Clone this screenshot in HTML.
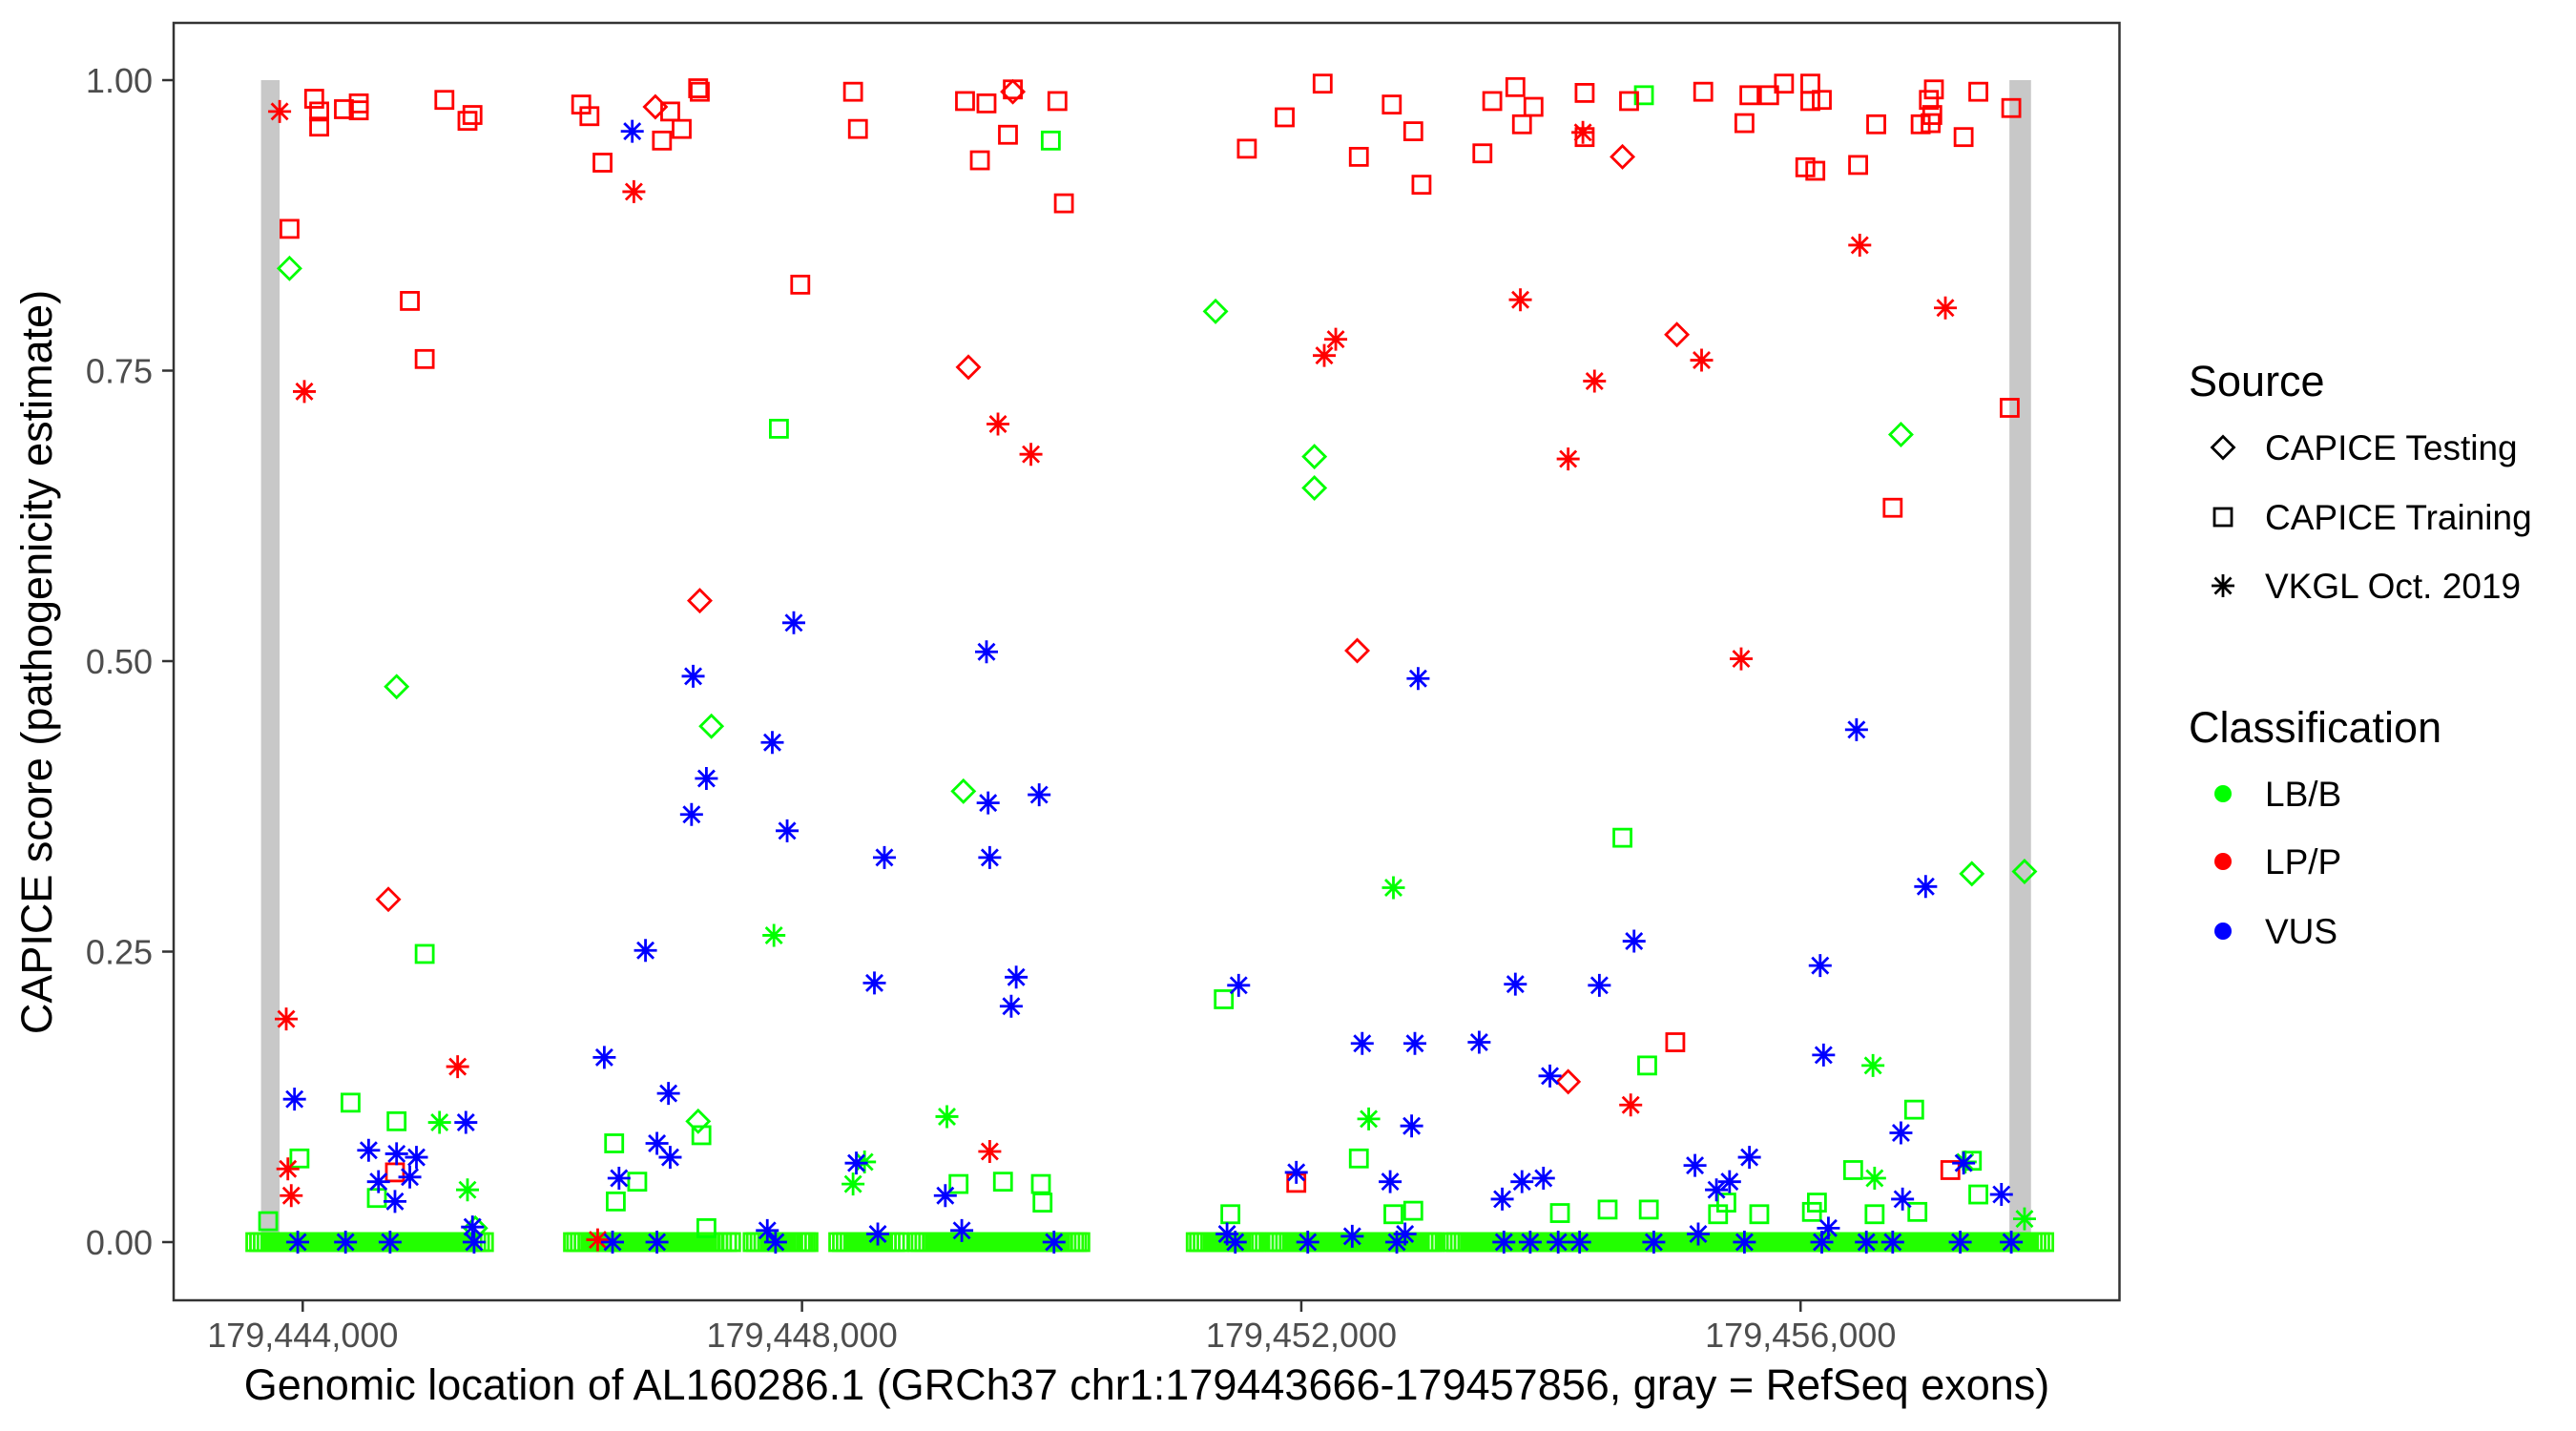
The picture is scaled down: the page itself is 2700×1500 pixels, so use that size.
<!DOCTYPE html>
<html><head><meta charset="utf-8"><style>
html,body{margin:0;padding:0;background:#fff;}
svg{display:block;font-family:"Liberation Sans",Arial,sans-serif;}
</style></head><body>
<svg id="chart" width="2700" height="1500" viewBox="0 0 2700 1500" xmlns="http://www.w3.org/2000/svg">
<rect x="0" y="0" width="2700" height="1500" fill="#fff"/>
<g id="exons"></g>
<g id="marks"></g>
<rect x="182" y="24" width="2039.5" height="1339" fill="none" stroke="#333" stroke-width="2.5"/>
<g id="axes"></g>
<text x="1202" y="1467" text-anchor="middle" font-size="45" fill="#000">Genomic location of AL160286.1 (GRCh37 chr1:179443666-179457856, gray = RefSeq exons)</text>
<text transform="translate(54,694) rotate(-90)" text-anchor="middle" font-size="45" fill="#000">CAPICE score (pathogenicity estimate)</text>
<g id="legend">
<text x="2294" y="415" font-size="45" fill="#000">Source</text>
<text x="2374" y="482" font-size="37" fill="#000">CAPICE Testing</text>
<text x="2374" y="555" font-size="37" fill="#000">CAPICE Training</text>
<text x="2374" y="627" font-size="37" fill="#000">VKGL Oct. 2019</text>
<text x="2294" y="778" font-size="45" fill="#000">Classification</text>
<text x="2374" y="845" font-size="37" fill="#000">LB/B</text>
<text x="2374" y="916" font-size="37" fill="#000">LP/P</text>
<text x="2374" y="989" font-size="37" fill="#000">VUS</text>
<circle cx="2330" cy="832" r="9" fill="#00ff00"/>
<circle cx="2330" cy="903" r="9" fill="#ff0000"/>
<circle cx="2330" cy="976" r="9" fill="#0000ff"/>
</g>
</svg>
<script>
// positions are offsets (bp) from BASE
const BASE = 179440000;
const xTicks = [179444000, 179448000, 179452000, 179456000];
const xTickLabels = ["179,444,000", "179,448,000", "179,452,000", "179,456,000"];
const yTicks = [0, 0.25, 0.5, 0.75, 1];
const yTickLabels = ["0.00", "0.25", "0.50", "0.75", "1.00"];
const exons = [[3666, 3815], [17673, 17846]];

const trainLP = [[3894,.872],[4092,.984],[4132,.973],[4132,.96],[4330,.975],[4449,.98],[4449,.974],[4858,.81],[4977,.76],[5135,.983],[5320,.965],[5360,.97],[6231,.979],[6297,.969],[6402,.929],[6944,.973],[7036,.958],[6878,.948],[7168,.993],[7181,.99],[7986,.824],[8409,.99],[8448,.958],[9306,.982],[9478,.98],[9425,.931],[9650,.953],[9689,.992],[10046,.982],[10098,.894],[11564,.941],[11867,.968],[12171,.997],[12461,.934],[12725,.979],[12897,.956],[12963,.91],[13451,.937],[13530,.982],[13715,.994],[13768,.962],[13860,.977],[14270,.951],[14270,.989],[14626,.982],[15220,.99],[15550,.963],[15590,.987],[15748,.987],[15867,.997],[16078,.997],[16170,.983],[16078,.982],[16038,.925],[16118,.922],[16461,.927],[16606,.962],[16962,.962],[17042,.963],[17028,.983],[17068,.992],[17055,.97],[17306,.951],[17424,.99],[17688,.976],[17675,.718],[16738,.632],[14996,.172],[11960,.051],[4739,.06],[17200,.062]];
const testLP = [[6825,.977],[9333,.753],[9689,.99],[7181,.552],[4686,.295],[12448,.509],[14573,.934],[15009,.781],[14138,.138]];
const vkglLP = [[3815,.973],[4013,.732],[6653,.904],[9570,.704],[9834,.678],[3868,.192],[3881,.063],[3908,.04],[5241,.151],[6363,.002],[9504,.078],[12184,.763],[12276,.777],[13755,.811],[14256,.955],[14349,.741],[14138,.674],[15207,.759],[15524,.502],[14639,.118],[16474,.858],[17160,.804]];
const testLB = [[3894,.838],[4752,.478],[7274,.444],[7168,.104],[9293,.388],[11313,.801],[12105,.676],[12105,.649],[16804,.695],[17372,.317],[17794,.319],[5383,.012]];
const trainLB = [[3723,.018],[3974,.072],[4383,.12],[4752,.104],[4594,.038],[4977,.248],[6495,.085],[6680,.052],[6508,.035],[7194,.092],[7234,.012],[7815,.7],[9993,.948],[9610,.052],[9254,.05],[9914,.05],[9927,.034],[11379,.209],[11432,.024],[12461,.072],[12738,.024],[12897,.027],[14573,.348],[14771,.152],[14745,.987],[16910,.114],[16593,.024],[16936,.026],[16421,.062],[17424,.041],[17372,.07],[14072,.025],[14454,.028],[14784,.028],[15339,.024],[15405,.034],[15669,.024],[16091,.026],[16131,.034]];
const trainLBZeroPos = [3620,3680,3740,3800,3860,3920,3980,4040,4100,4160,4220,4280,4340,4400,4460,4520,4580,4640,4700,4760,4820,4880,4940,5000,5060,5120,5180,5240,5300,5360,5420,5452,
6165,6220,6280,6340,6400,6460,6520,6580,6640,6700,6760,6820,6880,6940,7000,7060,7120,7180,7240,7300,7360,7432,
7604,7660,7720,7780,7840,7900,7960,8010,8052,
8290,8350,8410,8470,8530,8590,8650,8710,8778,
8924,8980,9040,9100,9160,9220,9280,9340,9400,9460,9520,9580,9640,9700,9760,9820,9880,9940,10000,10060,10120,10180,10230,
11154,11210,11270,11330,11390,11450,11510,11570,11620,11656,
11788,11840,11900,11960,12020,12080,12140,12200,12260,12320,12380,12440,12500,12560,12620,12680,12740,12800,12860,12920,12980,13030,13068,
13214,13270,13330,13390,13450,13510,13570,13630,13690,13750,13810,13870,13930,13990,14050,14110,14170,14230,14290,14350,14410,14470,14530,14590,14650,14710,14770,14830,14890,14950,15010,15070,15130,15190,15250,15310,15370,15430,15490,15550,15610,15670,15730,15790,15850,15910,15970,16030,16090,16150,16210,16270,16330,16390,16450,16510,16570,16630,16690,16750,16810,16870,16930,16990,17050,17110,17170,17230,17290,17350,17410,17470,17530,17590,17650,17710,17770,17830,17890,17952];
const trainLBZeroPos2 = [3650,3710,3770,3830,3890,3950,4010,4070,4130,4190,4250,4310,4370,4430,4490,4550,4610,4670,4730,4790,4850,4910,4970,5030,5090,5150,5210,5270,5330,5390,
6190,6250,6310,6370,6430,6490,6550,6610,6670,6730,6790,6850,6910,6970,7030,7090,7150,7210,7270,7330,7400,
7630,7690,7750,7810,7870,7930,7990,8030,
8320,8380,8440,8500,8560,8620,8680,8745,
8950,9010,9070,9130,9190,9250,9310,9370,9430,9490,9550,9610,9670,9730,9790,9850,9910,9970,10030,10090,10150,10205,
11180,11240,11300,11360,11420,11480,11540,11600,11640,
11810,11870,11930,11990,12050,12110,12170,12230,12290,12350,12410,12470,12530,12590,12650,12710,12770,12830,12890,12950,13010,13050,
13240,13300,13360,13420,13480,13540,13600,13660,13720,13780,13840,13900,13960,14020,14080,14140,14200,14260,14320,14380,14440,14500,14560,14620,14680,14740,14800,14860,14920,14980,15040,15100,15160,15220,15280,15340,15400,15460,15520,15580,15640,15700,15760,15820,15880,15940,16000,16060,16120,16180,16240,16300,16360,16420,16480,16540,16600,16660,16720,16780,16840,16900,16960,17020,17080,17140,17200,17260,17320,17380,17440,17500,17560,17620,17680,17740,17800,17860,17920];
const vkglLB = [[7775,.264],[9161,.108],[8409,.05],[8501,.069],[5096,.103],[5320,.045],[12738,.305],[12540,.106],[16593,.055],[16580,.152],[17319,.069],[17794,.02]];
const vkglVUS = [[6640,.956],[3934,.123],[4528,.079],[4607,.052],[4752,.076],[4858,.056],[4911,.073],[5307,.103],[5360,.013],[4739,.035],[6416,.159],[6746,.251],[6930,.128],[6838,.085],[6944,.073],[6534,.055],[7128,.487],[7115,.368],[7234,.399],[7762,.43],[7881,.354],[7934,.533],[8660,.331],[8580,.223],[8435,.068],[9478,.508],[9491,.378],[9504,.331],[9716,.228],[9676,.203],[9900,.385],[9148,.04],[11498,.221],[11960,.06],[12488,.171],[12910,.171],[12936,.485],[12884,.1],[12712,.052],[13425,.172],[13715,.222],[14388,.221],[13992,.143],[13768,.052],[13940,.055],[13610,.037],[14666,.259],[15154,.066],[15590,.073],[15431,.052],[15326,.045],[16448,.441],[16157,.238],[16184,.161],[16804,.094],[17002,.306],[16817,.037],[17306,.068],[17609,.041],
[3960,0],[4343,0],[4700,0],[5373,0],[6482,0],[6838,0],[7722,.01],[7788,0],[8607,.007],[9280,.01],[10019,0],[11405,.007],[11471,0],[12052,0],[12408,.005],[12765,0],[13623,0],[13834,0],[14058,0],[14230,0],[14824,0],[15550,0],[16170,0],[16223,.012],[16527,0],[16738,0],[17279,0],[17688,0],[12831,.007],[15180,.007]];

const NS = "http://www.w3.org/2000/svg";
function xScale(pos){ return 317.3 + (pos - 179444000) * 0.13083; }
function yScale(s){ return 1302 - s * 1218; }
function mk(tag, attrs, parent){ const e = document.createElementNS(NS, tag); for (const k in attrs) e.setAttribute(k, attrs[k]); parent.appendChild(e); return e; }

const exG = document.getElementById('exons');
exons.forEach(function(ex){
  const r = mk('rect', {x: xScale(BASE+ex[0]), y: yScale(1), width: xScale(BASE+ex[1]) - xScale(BASE+ex[0]), height: yScale(0) - yScale(1), fill: '#c8c8c8'}, exG);
  
  
});

const ax = document.getElementById('axes');
xTicks.forEach(function(t, i){
  const x = xScale(t);
  const l = mk('line', {x1: x, x2: x, y1: 1363, y2: 1375, stroke: '#333', 'stroke-width': 2.5}, ax);
  
  
  const tx = mk('text', {x: x, y: 1412, 'text-anchor': 'middle', 'font-size': 36, fill: '#4d4d4d'}, ax);
  tx.textContent = xTickLabels[i];
  
  
});
yTicks.forEach(function(t, i){
  const y = yScale(t);
  const l = mk('line', {x1: 170, x2: 182, y1: y, y2: y, stroke: '#333', 'stroke-width': 2.5}, ax);
  
  
  const tx = mk('text', {x: 160, y: y + 13, 'text-anchor': 'end', 'font-size': 36, fill: '#4d4d4d'}, ax);
  tx.textContent = yTickLabels[i];
  
  
});

const mG = document.getElementById('marks');
function square(x, y, c, g){ return mk('rect', {x: x-9, y: y-9, width: 18, height: 18, fill: 'none', stroke: c, 'stroke-width': 2.8}, g); }
function diamond(x, y, c, g){ return mk('polygon', {points: [x,y-11.5, x+11.5,y, x,y+11.5, x-11.5,y].join(' '), fill: 'none', stroke: c, 'stroke-width': 2.8}, g); }
function star(x, y, c, g){
  const r = 12, d = 8.5;
  return mk('path', {d: 'M'+x+' '+(y-r)+'V'+(y+r)+'M'+(x-r)+' '+y+'H'+(x+r)+'M'+(x-d)+' '+(y-d)+'L'+(x+d)+' '+(y+d)+'M'+(x-d)+' '+(y+d)+'L'+(x+d)+' '+(y-d), fill: 'none', stroke: c, 'stroke-width': 2.8}, g);
}
function draw(arr, shape, color, name){
  arr.forEach(function(p){
    const el = shape(xScale(BASE + p[0]), yScale(p[1]), color, mG);
    
    
  });
}
trainLBZeroPos.concat(trainLBZeroPos2).forEach(function(o){
  const el = square(xScale(BASE + o), yScale(0), '#22ff00', mG);
  
  
});
draw(trainLB, square, '#00ff00', 'point-training-lbb');
draw(testLB, diamond, '#00ff00', 'point-testing-lbb');
draw(vkglLB, star, '#00ff00', 'point-vkgl-lbb');
draw(trainLP, square, '#ff0000', 'point-training-lpp');
draw(testLP, diamond, '#ff0000', 'point-testing-lpp');
draw(vkglLP, star, '#ff0000', 'point-vkgl-lpp');
draw(vkglVUS, star, '#0000ff', 'point-vkgl-vus');

const lg = document.getElementById('legend');
let e;
e = diamond(2330, 469, '#000', lg);


e = square(2330, 542, '#000', lg);


e = star(2330, 614, '#000', lg);


</script>
</body></html>
